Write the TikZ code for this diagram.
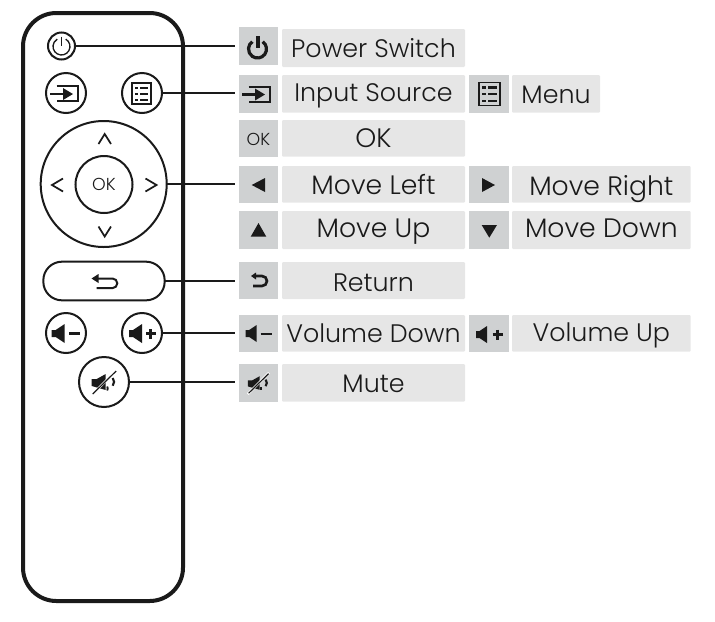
\documentclass[tikz,border=0pt]{standalone}
\usepackage{fontspec}
\usetikzlibrary{arrows.meta}
\setmainfont{Poppins Light}
\definecolor{iconbg}{HTML}{CFD1D2}
\definecolor{textbg}{HTML}{E6E6E6}
\definecolor{ink}{HTML}{1A1A1A}
\newcommand{\lblbox}[8]{%
  \pgfmathsetmacro{\lblcx}{(#3+#4)/2}%
  \pgfmathsetmacro{\lblw}{(#4-#3)*0.75}%
  \pgfmathsetmacro{\lblh}{(#7-#5)*0.75}%
  \pgfmathsetmacro{\lbld}{(#6-#7)*0.75}%
  \node[#2,anchor=base,minimum width=\lblw pt,text height=\lblh pt,text depth=\lbld pt] (#1) at (\lblcx,#7) {#8};%
}
\tikzset{
  x=0.75pt,y=-0.75pt,
  iconbox/.style={fill=iconbg,inner sep=0pt,outer sep=0pt,text=ink,font=\fontsize{13}{13}\selectfont},
  textbox/.style={fill=textbg,inner sep=0pt,outer sep=0pt,text=ink,font=\fontsize{19}{19}\selectfont,rounded corners=0.8pt},
  movebox/.style={textbox,font=\fontsize{20}{20}\selectfont},
  btn/.style={circle,draw=ink,line width=1.5pt,inner sep=0pt,outer sep=0pt,minimum size=#1*0.75pt},
  wire/.style={draw=ink,line width=1.3pt,shorten >=3pt},
  ico/.style={draw=ink,line width=1.3pt},
  powerthin/.pic={
    \draw[ico,line width=1pt] (-60:8.5) arc[start angle=-60,end angle=240,radius=8.5];
    \draw[ico,line width=1pt] (0,-10) -- (0,-1);
  },
  powerbold/.pic={
    \draw[ico,line width=2.4pt] (-55:9) arc[start angle=-55,end angle=235,radius=9];
    \draw[ico,line width=3pt] (0,-13) -- (0,-1);
  },
  inputsrc/.pic={
    \draw[ico,line width=1.5pt] (-9.5,-7) -- (12,-7) -- (12,8) -- (-9.5,8);
    \draw[ico,line width=1.8pt] (-16,1) -- (-2,1);
    \fill[ink] (7,1) -- (-3,-5) -- (-3,7) -- cycle;
  },
  menuicon/.pic={
    \draw[ico,line width=1.3pt] (-9.5,-10.5) rectangle (9.5,10.5);
    \foreach \ry in {-6,0,6}{
      \fill[ink] (-6.5,\ry-1) rectangle (-3.5,\ry+1);
      \fill[ink] (-1.5,\ry-1) rectangle (6.5,\ry+1);
    }
  },
  returnicon/.pic={
    \draw[ico,line width=1.5pt] (-8,-3.5) -- (9,-3.5) arc[start angle=-90,end angle=90,radius=4.8] -- (-7,6.1);
    \fill[ink] (-12,-3.5) -- (-5,-8) -- (-5,1) -- cycle;
  },
  returnbold/.pic={
    \draw[ico,line width=2pt] (-5,-4.5) -- (3,-4.5) arc[start angle=-90,end angle=90,radius=5] -- (-6,5.5);
    \fill[ink] (-8,-4.5) -- (-3,-8) -- (-3,-1) -- cycle;
  },
  speaker/.pic={
    \fill[ink] (0,-3.5) -- (4,-3.5) -- (13,-9.5) -- (13,9.5) -- (4,3.5) -- (0,3.5) -- cycle;
  },
  speakersmall/.pic={
    \fill[ink] (0,-3.5) -- (3.5,-3.5) -- (11,-8.5) -- (11,8.5) -- (3.5,3.5) -- (0,3.5) -- cycle;
  },
  muteicon/.pic={
    \fill[ink] (-12,-3) -- (-7,-3) -- (2,-8) -- (2,8) -- (-12,4) -- cycle;
    \draw[white,line width=1.8pt] (-12,13) -- (13,-12);
    \draw[ink,line width=0.9pt] (-11,12) -- (12.5,-11);
    \draw[ink,line width=1.6pt] (9,-4) arc[start angle=-40,end angle=40,radius=6];
    \draw[ink,line width=1.4pt] (3.5,4.5) arc[start angle=-30,end angle=30,radius=4];
  },
}
\begin{document}
\begin{tikzpicture}
\useasboundingbox (0,0) rectangle (715,622);
% remote body
\node[draw=ink,line width=3pt,rounded corners=25pt,minimum width=120pt,minimum height=441pt,inner sep=0pt,outer sep=0pt] (remote) at (103,307) {};
% buttons
\node[btn=27] (bpower) at (61.5,46) {};
\node[btn=40] (binput) at (66,93) {};
\node[btn=40] (bmenu) at (142,93) {};
\node[btn=126] (bpad) at (103.7,184) {};
\node[btn=57,font=\fontsize{13}{13}\selectfont,text=ink] (bok) at (104,184.5) {OK};
\node[draw=ink,line width=1.5pt,rounded corners=14pt,minimum width=91pt,minimum height=29pt,inner sep=0pt,outer sep=0pt] (breturn) at (104,281) {};
\node[btn=40] (bvoldown) at (66,333) {};
\node[btn=40] (bvolup) at (142,333) {};
\node[btn=50] (bmute) at (104,382) {};
% button glyphs
\pic at (61.5,46.5) {powerthin};
\pic at (66,93) {inputsrc};
\pic at (141.7,93.5) {menuicon};
\pic at (103.5,282) {returnicon};
\pic at (51.7,333.5) {speaker};
\draw[ico,line width=2.6pt] (69.3,333.7) -- (80,333.7);
\pic at (129,333.5) {speaker};
\draw[ico,line width=2.2pt] (146,333.7) -- (155.5,333.7) (150.7,329) -- (150.7,338.5);
\pic at (103.7,382) {muteicon};
% d-pad chevrons
\draw[ico] (98.5,144) -- (104.7,134) -- (111,144);
\draw[ico] (98.5,226.5) -- (104.7,236.5) -- (111,226.5);
\draw[ico] (63,178.5) -- (52,185) -- (63,191.5);
\draw[ico] (145.5,178.5) -- (156.5,185) -- (145.5,191.5);
% label boxes
\lblbox{ipower}{iconbox}{239}{277.7}{27}{65}{56.7}{}
\lblbox{tpower}{textbox}{282}{465}{29}{67}{57.7}{Power Switch}
\lblbox{iinput}{iconbox}{239}{277.7}{75}{112.7}{101}{}
\lblbox{tinput}{textbox}{282}{465}{75}{112.7}{101.5}{Input Source}
\lblbox{imenu}{iconbox}{469}{509}{75}{112.7}{103}{}
\lblbox{tmenu}{textbox}{512}{600}{75}{112.7}{103}{Menu}
\lblbox{iok}{iconbox}{239}{277.7}{120}{156.7}{145}{OK}
\lblbox{tok}{movebox}{282}{465}{120}{156.7}{147.7}{OK}
\lblbox{ileft}{iconbox}{239}{277.7}{166}{202.7}{193}{}
\lblbox{tleft}{movebox}{282}{465}{166}{202.7}{194}{Move Left}
\lblbox{iright}{iconbox}{469}{509}{166}{202.7}{195}{}
\lblbox{tright}{movebox}{512}{690.7}{166}{202.7}{195}{Move Right}
\lblbox{iup}{iconbox}{239}{277.7}{211}{249}{237.7}{}
\lblbox{tup}{movebox}{282}{465}{211}{249}{237.7}{Move Up}
\lblbox{idown}{iconbox}{469}{509}{211}{249}{237.7}{}
\lblbox{tdown}{movebox}{512}{690.7}{211}{249}{237.7}{Move Down}
\lblbox{ireturn}{iconbox}{239}{277.7}{262}{299}{291}{}
\lblbox{treturn}{textbox}{282}{465}{262}{299}{291}{Return}
\lblbox{ivoldown}{iconbox}{239}{277.7}{315}{351.7}{342.7}{}
\lblbox{tvoldown}{textbox}{282}{465}{315}{351.7}{342.7}{Volume Down}
\lblbox{ivolup}{iconbox}{469}{509}{315}{351.7}{340.7}{}
\lblbox{tvolup}{textbox}{512}{690.7}{315}{351.7}{341.7}{Volume Up}
\lblbox{imute}{iconbox}{239}{277.7}{364}{401.7}{392.7}{}
\lblbox{tmute}{textbox}{282}{465}{364}{401.7}{392.7}{Mute}
% label glyphs
\pic at (257.5,49) {powerbold};
\pic at (258,93.5) {inputsrc};
\pic at (489.5,94) [scale=1.1] {menuicon};
\pic at (259,280.5) {returnbold};
\pic at (245.7,333.5) {speakersmall};
\draw[ico,line width=1.6pt] (260.7,333.7) -- (272,333.7);
\pic at (476,334.5) {speakersmall};
\draw[ico,line width=1.6pt] (492.5,334.5) -- (502.5,334.5) (497.5,329.5) -- (497.5,339.5);
\pic at (258,383) [scale=0.85] {muteicon};
\fill[ink] (251.7,185) -- (265,178) -- (265,192) -- cycle;
\fill[ink] (495,185) -- (482,178) -- (482,192) -- cycle;
\fill[ink] (258.5,223) -- (266.3,236.7) -- (250.7,236.7) -- cycle;
\fill[ink] (489.3,237.7) -- (497,225) -- (481.7,225) -- cycle;
% connectors
\draw[wire] (bpower.east) -- (bpower.east -| ipower.west);
\draw[wire] (bmenu.east) -- (bmenu.east -| iinput.west);
\draw[wire,line width=1pt] (bpad.east) -- (bpad.east -| ileft.west);
\draw[wire,line width=1pt] (breturn.east) -- (breturn.east -| ireturn.west);
\draw[wire,line width=1pt] (bvolup.east) -- (bvolup.east -| ivoldown.west);
\draw[wire] (bmute.east) -- (bmute.east -| imute.west);
\end{tikzpicture}
\end{document}
